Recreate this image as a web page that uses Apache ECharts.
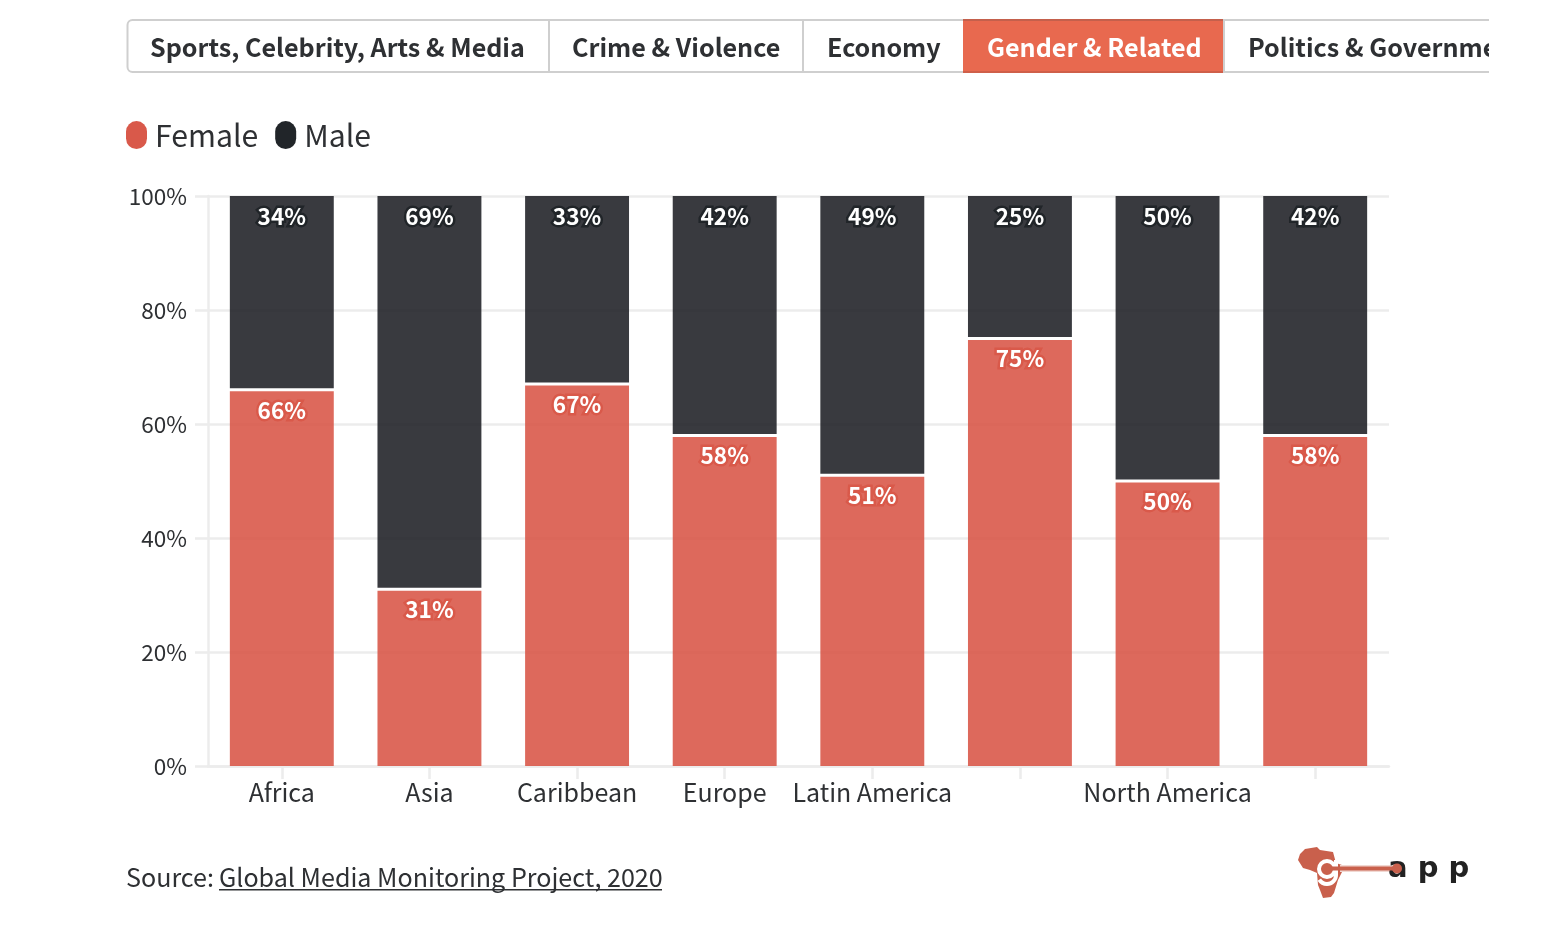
<!DOCTYPE html>
<html><head><meta charset="utf-8">
<style>html,body{margin:0;padding:0;background:#fff}#c{width:1566px;height:950px}</style>
<script src="https://cdn.jsdelivr.net/npm/echarts@6/dist/echarts.min.js"></script>
</head><body><div id="c"></div>
<script>
const categories = ['Africa','Asia','Caribbean','Europe','Latin America','','North America',''];
const female = [66,31,67,58,51,75,50,58];
const male = [34,69,33,42,49,25,50,42];
const tabs = ['Sports, Celebrity, Arts & Media','Crime & Violence','Economy','Gender & Related','Politics & Government'];
const FONT = '"Noto Sans CJK SC","Noto Sans",sans-serif';
const TXT = '#2e3033';
const tabTextX = [150,572,827,987,1248];
const g = [];
// tab bar
g.push({type:'rect',shape:{x:127.5,y:20,width:1500,height:52,r:5},style:{fill:'#fff',stroke:'#cfcfcf',lineWidth:2},z:1});
g.push({type:'rect',shape:{x:963,y:19,width:260,height:54},style:{fill:'#e8694f'},z:2});
g.push({type:'rect',shape:{x:963,y:19,width:260,height:2},style:{fill:'#c4604c'},z:3});
g.push({type:'rect',shape:{x:963,y:71,width:260,height:2},style:{fill:'#cf5f49'},z:3});
[549,803,1224].forEach(x=>g.push({type:'rect',shape:{x:x-1,y:20,width:2,height:53},style:{fill:'#cfcfcf'},z:3}));
tabs.forEach((t,i)=>g.push({type:'text',x:tabTextX[i],y:47,z:4,style:{text:t,font:'700 25.1px '+FONT,fill:i===3?'#fff':TXT,textVerticalAlign:'middle'}}));
g.push({type:'rect',shape:{x:1489,y:10,width:80,height:70},style:{fill:'#fff'},z:5});
// source
g.push({type:'text',x:126,y:877,z:4,style:{text:'Source:',font:'400 25.1px '+FONT,fill:TXT,textVerticalAlign:'middle'}});
g.push({type:'text',x:219,y:877,z:4,style:{text:'Global Media Monitoring Project, 2020',font:'400 25.1px '+FONT,fill:TXT,textVerticalAlign:'middle'}});
g.push({type:'rect',shape:{x:219,y:889,width:443,height:1.4},style:{fill:TXT},z:4});
// logo
g.push({type:'polygon',shape:{points:[[1298,860],[1300,854],[1305,849],[1317,847],[1320,850],[1333,852],[1336,863],[1345,866],[1341,874],[1338,880],[1334,893],[1331,897],[1323,898],[1320,890],[1318,885],[1317,873],[1310,870],[1303,868]]},style:{fill:'#c9604c'},z:4});
g.push({type:'circle',shape:{cx:1327,cy:869,r:8},style:{fill:'#c9604c',stroke:'#fff',lineWidth:4},z:5});
g.push({type:'rect',shape:{x:1334,y:860,width:4,height:15},style:{fill:'#fff'},z:5});
g.push({type:'arc',shape:{cx:1327,cy:875,r:9,startAngle:0,endAngle:2.6,clockwise:true},style:{fill:'none',stroke:'#fff',lineWidth:4},z:5});
g.push({type:'rect',shape:{x:1340,y:865,width:58,height:7},style:{fill:'#f1d8d2'},z:5});
g.push({type:'rect',shape:{x:1326,y:866.5,width:72,height:4},style:{fill:'#c9604c'},z:6});
g.push({type:'text',x:1388,y:869,z:5,style:{text:'a p p',font:'700 29px "DejaVu Sans",sans-serif',fill:'#222',textVerticalAlign:'middle'}});
g.push({type:'circle',shape:{cx:1397,cy:868.5,r:5},style:{fill:'#c9604c'},z:6});

const capsule = 'path://M10.5,0 A10.5,10.5 0 0 1 21,10.5 V17.5 A10.5,10.5 0 0 1 0,17.5 V10.5 A10.5,10.5 0 0 1 10.5,0 Z';
function seriesOf(name,data,color,outline){
  return {name,type:'bar',stack:'s',data,barWidth:'70.4%',
    itemStyle:{color,opacity:0.9},
    emphasis:{disabled:true},
    label:{show:true,opacity:1,position:'insideTop',distance:9,formatter:'{c}%',color:'#fff',fontFamily:FONT,fontWeight:700,fontSize:22.6,
      textBorderColor:outline,textBorderWidth:5}};
}
const chart = echarts.init(document.getElementById('c'),null,{renderer:'canvas'});
const tick = {lineStyle:{color:'#ececec',width:2.5}};
chart.setOption({
  animation:false,
  grid:{left:208,right:177,top:196,bottom:184,containLabel:false},
  legend:{left:126,top:120,padding:0,itemWidth:21,itemHeight:28,itemGap:17,icon:capsule,selectedMode:false,
    textStyle:{fontFamily:FONT,fontSize:30.2,color:TXT,padding:[0,0,0,3]},
    data:[{name:'Female',itemStyle:{color:'#d9594a',opacity:1}},{name:'Male',itemStyle:{color:'#212529',opacity:1}}]},
  xAxis:{type:'category',data:categories,axisLine:{show:true,lineStyle:{color:'#ececec',width:2.5}},
    axisTick:{show:true,alignWithLabel:true,length:13,...tick},
    axisLabel:{interval:0,margin:14,fontFamily:FONT,fontSize:25,color:TXT,hideOverlap:false}},
  yAxis:{type:'value',min:0,max:100,interval:20,
    axisLine:{show:true,lineStyle:{color:'#ececec',width:2.5}},
    axisTick:{show:true,length:13,...tick},
    splitLine:{show:true,lineStyle:{color:'#ececec',width:2.5}},
    axisLabel:{margin:21,formatter:'{value}%',fontFamily:FONT,fontSize:22.5,color:TXT}},
  series:[seriesOf('Female',female,'#d9594a','#d9594a'),seriesOf('Male',male,'#23252a','#212529'),
    {name:'divider',type:'scatter',data:female.map((v,i)=>[i,v]),symbol:'rect',symbolSize:[106,3],silent:true,z:3,
     itemStyle:{color:'#fff',opacity:1},label:{show:false},emphasis:{disabled:true}}],
  graphic:{elements:g}
});
</script></body></html>
